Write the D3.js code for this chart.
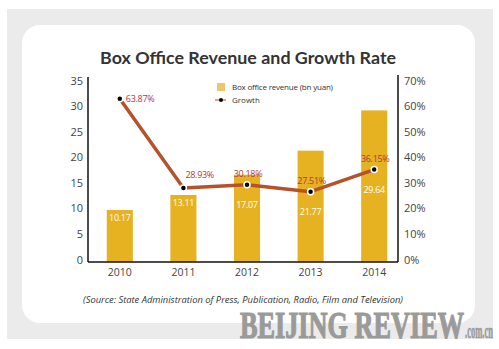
<!DOCTYPE html>
<html><head><meta charset="utf-8">
<script src="https://cdn.jsdelivr.net/npm/d3@7"></script>
<style>html,body{margin:0;padding:0;background:#fff;}svg{display:block;}</style>
</head><body>
<script>
const years = ["2010","2011","2012","2013","2014"];
const revenue = [10.17, 13.11, 17.07, 21.77, 29.64];
const growth = [63.87, 28.93, 30.18, 27.51, 36.15];
const leftTicks = [0,5,10,15,20,25,30,35];
const rightTicks = [0,10,20,30,40,50,60,70];
const titleText = "Box Office Revenue and Growth Rate";
const legendLabels = ["Box office revenue (bn yuan)", "Growth"];
const sourceText = "(Source: State Administration of Press, Publication, Radio, Film and Television)";
const watermark = ["BEIJING REVIEW", ".com.cn"];

const W = 499, H = 349;
const svg = d3.select("body").append("svg").attr("width", W).attr("height", H);

// background frame
svg.append("rect").attr("x",7).attr("y",9).attr("width",486).attr("height",330).attr("fill","#ebebeb");
svg.append("rect").attr("x",22).attr("y",25).attr("width",453).attr("height",298).attr("rx",18).attr("fill","#fff");

// watermark (horizontally condensed with a transform so its box stays true)
function condensed(g, str, x0, y0, size, targetW, sw) {
  const t = g.append("text").attr("x",0).attr("y",0).attr("font-size",size).attr("stroke-width",sw).text(str);
  const nat = t.node().getComputedTextLength();
  t.attr("transform", `translate(${x0},${y0}) scale(${targetW/nat},1)`);
}
const wm = svg.append("g").attr("fill","#9a9a9a").attr("stroke","#9a9a9a")
  .attr("font-family","'Liberation Serif', serif").attr("font-weight","bold");
condensed(wm, watermark[0], 240, 338, 37, 224, 1.2);
condensed(wm, watermark[1], 465, 338, 20, 28, 0.5);

// title
svg.append("text").attr("x",248).attr("y",64).attr("text-anchor","middle")
  .attr("font-family","Lato, 'Open Sans', sans-serif").attr("font-weight","bold")
  .attr("font-size",17.5).attr("fill","#333").attr("textLength",296).attr("lengthAdjust","spacingAndGlyphs")
  .text(titleText);

// scales
const x = d3.scaleBand().domain(years).range([88,406]).paddingInner(0.59).paddingOuter(0.295);
const yL = d3.scaleLinear().domain([0,35]).range([262,83]);
const yR = d3.scaleLinear().domain([0,70]).range([262,83]);
const cx = d => x(d) + x.bandwidth()/2;

const tickFont = "'Open Sans', sans-serif";

// bars
svg.append("g").selectAll("rect").data(years).join("rect")
  .attr("x", d => x(d)).attr("width", x.bandwidth())
  .attr("y", (d,i) => yL(revenue[i])).attr("height", (d,i) => yL(0) - yL(revenue[i]))
  .attr("fill", "#e6b222");

// axes
const axL = svg.append("g").attr("transform","translate(88,0)")
  .call(d3.axisLeft(yL).tickValues(leftTicks).tickSize(0).tickPadding(5));
const axR = svg.append("g").attr("transform","translate(398,0)")
  .call(d3.axisRight(yR).tickValues(rightTicks).tickSize(0).tickPadding(6).tickFormat(d => d + "%"));
[axL, axR].forEach(a => {
  a.select(".domain").remove();
  a.selectAll("text").attr("font-family", tickFont).attr("font-size", 11).attr("fill","#444").attr("dy","0.1em");
});
svg.append("line").attr("x1",88).attr("x2",88).attr("y1",77).attr("y2",262).attr("stroke","#111").attr("stroke-width",1.5);
svg.append("line").attr("x1",398).attr("x2",398).attr("y1",75).attr("y2",262).attr("stroke","#111").attr("stroke-width",1.5);
const axB = svg.append("g").attr("transform","translate(0,262)")
  .call(d3.axisBottom(x).tickSize(0).tickPadding(7));
axB.select(".domain").remove();
axB.selectAll("text").attr("font-family", tickFont).attr("font-size", 10.5).attr("fill","#444");
svg.append("line").attr("x1",88).attr("x2",398).attr("y1",262).attr("y2",262).attr("stroke","#111").attr("stroke-width",1.5);

// line
const line = d3.line().x((d,i) => cx(years[i])).y(d => yR(d));
svg.append("path").datum(growth).attr("d", line).attr("fill","none")
  .attr("stroke","#b5522a").attr("stroke-width",3.5).attr("stroke-linejoin","round");
svg.append("g").selectAll("circle").data(growth).join("circle")
  .attr("cx",(d,i) => cx(years[i])).attr("cy", d => yR(d)).attr("r",3)
  .attr("fill","#000").attr("stroke","#fff").attr("stroke-width",1.5);

// growth labels: to the right when the line falls steeply into the point, else above it
const steep = i => i > 0 && growth[i-1] - growth[i] > 20;
svg.append("g").selectAll("text").data(growth).join("text")
  .attr("x",(d,i) => i === 0 ? cx(years[i]) + 6 : steep(i) ? cx(years[i]) + 2 : cx(years[i]) + 1)
  .attr("y",(d,i) => i === 0 ? yR(d) + 3 : steep(i) ? yR(d) - 10 : yR(d) - 8)
  .attr("text-anchor",(d,i) => (i === 0 || steep(i)) ? "start" : "middle")
  .attr("font-family", tickFont).attr("font-size", 9).attr("fill","#b0383a")
  .attr("letter-spacing","-0.3")
  .text(d => d.toFixed(2) + "%");

// bar value labels
svg.append("g").selectAll("text").data(revenue).join("text")
  .attr("x",(d,i) => cx(years[i]))
  .attr("y",(d,i) => {
    const top = yL(d), py = yR(growth[i]);
    return (py < top ? top + 8 : py + 20) + 3;
  })
  .attr("text-anchor","middle")
  .attr("font-family", tickFont).attr("font-size", 9).attr("fill","#fff")
  .attr("letter-spacing","-0.3")
  .text(d => d.toFixed(2));

// legend
const lg = svg.append("g").attr("font-family", tickFont).attr("font-size", 8).attr("fill","#333");
lg.append("rect").attr("x",217).attr("y",83).attr("width",8).attr("height",8).attr("fill","#ebc66e");
lg.append("text").attr("x",232).attr("y",90).attr("letter-spacing","-0.2").text(legendLabels[0]);
lg.append("line").attr("x1",215).attr("x2",226).attr("y1",100).attr("y2",100).attr("stroke","#c98a6a").attr("stroke-width",1.5);
lg.append("circle").attr("cx",221).attr("cy",100).attr("r",2).attr("fill","#000");
lg.append("text").attr("x",232).attr("y",103).text(legendLabels[1]);

// source
svg.append("text").attr("x",83).attr("y",303).attr("font-family", tickFont).attr("font-style","italic")
  .attr("font-size",9).attr("fill","#333").attr("textLength",320).attr("lengthAdjust","spacingAndGlyphs")
  .text(sourceText);
</script>
</body></html>
